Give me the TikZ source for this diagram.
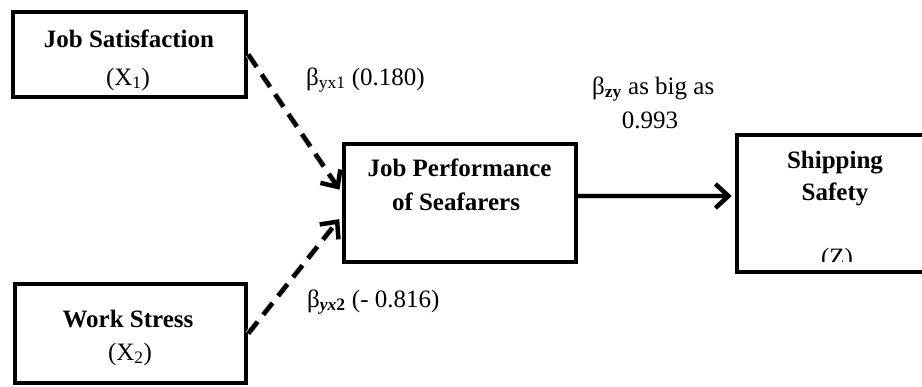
\documentclass[tikz,border=0pt]{standalone}
\usepackage{fontspec}
\setmainfont{Liberation Serif}
\usetikzlibrary{arrows.meta,calc}
\tikzset{
  box/.style={draw=black,line width=4.5pt,rectangle,inner sep=0pt},
  txt/.style={inner sep=0pt,anchor=base,font=\fontsize{25}{30}\selectfont},
  ttl/.style={txt,font=\fontsize{25}{30}\selectfont\bfseries},
  lbl/.style={inner sep=0pt,anchor=base west,font=\fontsize{25}{30}\selectfont},
  tip/.style={-{Straight Barb[length=13pt,width=24pt,line width=4.5pt]}},
  solidarrow/.style={tip,line width=4.5pt},
  dasharrow/.style={tip,line width=4.5pt,dash pattern=on 15pt off 9pt},
  shadowline/.style={draw=black!18,line width=6pt},
}
\begin{document}
\begin{tikzpicture}[x=1pt,y=-1pt]
\useasboundingbox (0,0) rectangle (922,386);

% boxes
\node[box,minimum width=233pt,minimum height=85pt] (b1) at (129.5,54.5) {};
\node[box,minimum width=231pt,minimum height=99pt] (b2) at (130.5,333.5) {};
\node[box,minimum width=232pt,minimum height=118pt] (b3) at (460,203) {};
\node[box,minimum width=200pt,minimum height=137pt] (b4) at (837,203.5) {};

% box texts
\node[ttl] (t1a) at (129,47) {Job Satisfaction};
\node[txt] (t1b) at (128,85) {(X\textsubscript{1})};
\node[ttl] (t2a) at (128,327) {Work Stress};
\node[txt] (t2b) at (130,360) {(X\textsubscript{2})};
\node[ttl] (t3a) at (459.5,176) {Job Performance};
\node[ttl] (t3b) at (456,210) {of Seafarers};
\node[ttl] (t4a) at (835,168) {Shipping};
\node[ttl] (t4b) at (835,200) {Safety};
\begin{scope}
  \clip (700,0) rectangle (922,261);
  \node[txt] (t4c) at (837,265) {(Z)};
\end{scope}

% labels
\node[lbl] (l1) at (306,85) {β\textsubscript{yx1} (0.180)};
\node[lbl] (l2) at (592,94) {β\textsubscript{\textbf{zy}} as big as};
\node[txt] (l3) at (650,128) {0.993};
\node[lbl] (l4) at (307,307) {β\textsubscript{\textbf{\textit{yx}2}} (- 0.816)};

% connector shadows
\begin{scope}[shift={(2,3)}]
\draw[shadowline,dash pattern=on 15pt off 9pt,shorten >=14pt] (b1.east) -- ($(b3.west)+(0,-10)$);
\draw[shadowline,dash pattern=on 15pt off 9pt,shorten >=14pt] (b2.east) -- ($(b3.west)+(0,13)$);
\draw[shadowline,shorten >=12pt] ($(b3.east)+(0,-7)$) -- ($(b4.west)+(0,-7.5)$);
\end{scope}

% connectors
\draw[dasharrow,shorten >=4pt] (b1.east) -- ($(b3.west)+(0,-10)$);
\draw[dasharrow,shorten >=4pt] (b2.east) -- ($(b3.west)+(0,13)$);
\draw[solidarrow,shorten >=3pt] ($(b3.east)+(0,-7)$) -- ($(b4.west)+(0,-7.5)$);
\end{tikzpicture}
\end{document}
